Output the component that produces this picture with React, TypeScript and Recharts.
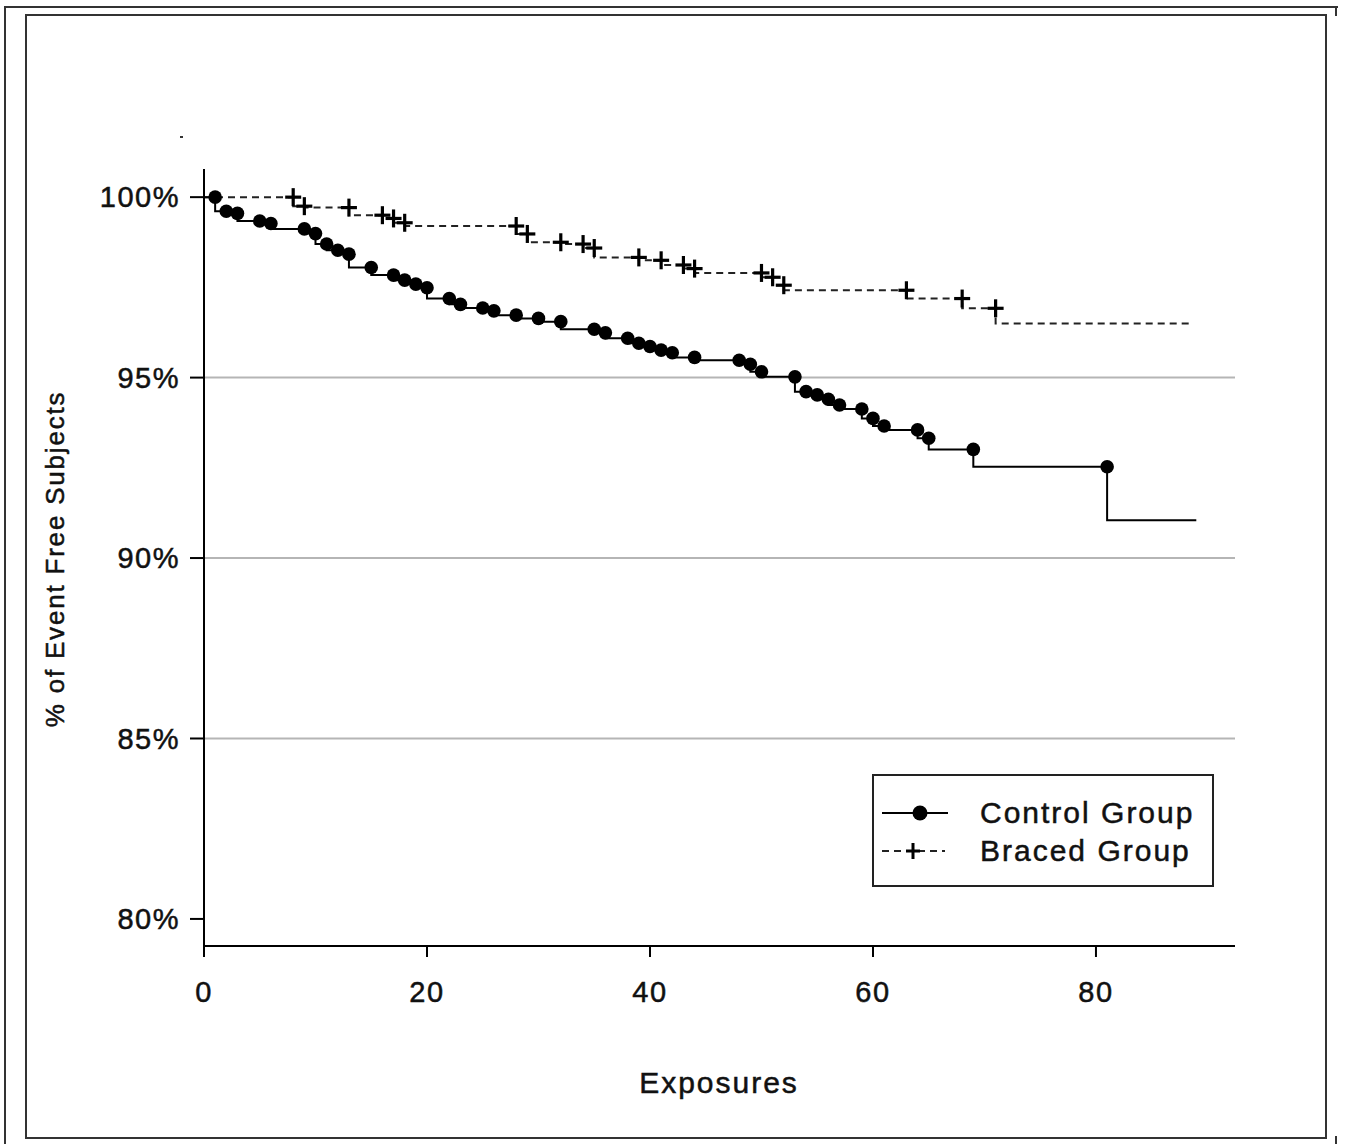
import { ComposedChart, Line, XAxis, YAxis, ReferenceLine, Legend } from "recharts";

// Kaplan-Meier style curves: marker times and the level held just before each drop
const controlTimes = [1, 2, 3, 5, 6, 9, 10, 11, 12, 13, 15, 17, 18, 19, 20, 22, 23, 25, 26, 28, 30, 32, 35, 36, 38, 39, 40, 41, 42, 44, 48, 49, 50, 53, 54, 55, 56, 57, 59, 60, 61, 64, 65, 69, 81];
const controlLevels = [100.0, 99.61, 99.55, 99.34, 99.27, 99.12, 98.99, 98.7, 98.53, 98.42, 98.05, 97.84, 97.7, 97.59, 97.49, 97.19, 97.03, 96.93, 96.85, 96.73, 96.64, 96.55, 96.34, 96.24, 96.09, 95.95, 95.86, 95.76, 95.69, 95.56, 95.48, 95.37, 95.16, 95.02, 94.61, 94.52, 94.4, 94.24, 94.13, 93.87, 93.66, 93.55, 93.32, 93.01, 92.53];
const controlFinal = { time: 89, level: 91.05 };

const bracedTimes = [8, 9, 13, 16, 17, 18, 28, 29, 32, 34, 35, 39, 41, 43, 44, 50, 51, 52, 63, 68, 71];
const bracedLevels = [100.0, 99.75, 99.71, 99.5, 99.41, 99.29, 99.2, 98.98, 98.75, 98.7, 98.59, 98.33, 98.25, 98.12, 98.02, 97.9, 97.78, 97.56, 97.42, 97.19, 96.92];
const bracedFinal = { time: 88.5, level: 96.5 };

const xTicks = [0, 20, 40, 60, 80];
const yTicks = [80, 85, 90, 95, 100];
const gridLevels = [85, 90, 95];

const FONT = "'Liberation Sans', Arial, Helvetica, sans-serif";
const tickStyle = { fill: "#111", stroke: "#111", strokeWidth: 0.5, fontSize: 29, fontFamily: FONT, letterSpacing: 1.5 };

function buildCurve(times: number[], levels: number[], final: { time: number; level: number }) {
  return [
    { x: 0, y: 100 },
    ...times.map((t, i) => ({ x: t, y: levels[i] })),
    { x: final.time, y: final.level },
  ];
}

const controlData = buildCurve(controlTimes, controlLevels, controlFinal);
const bracedData = buildCurve(bracedTimes, bracedLevels, bracedFinal);

function CircleDot(props: any) {
  const { cx, cy, index } = props;
  if (index === 0 || index === controlData.length - 1) return <g key={`c-${index}`} />;
  return <circle key={`c-${index}`} cx={cx} cy={cy} r={6.8} fill="#000" />;
}

function PlusDot(props: any) {
  const { cx, cy, index } = props;
  if (index === 0 || index === bracedData.length - 1) return <g key={`b-${index}`} />;
  return (
    <g key={`b-${index}`} stroke="#000" strokeWidth={3.2}>
      <line x1={cx - 8} y1={cy} x2={cx + 8} y2={cy} />
      <line x1={cx} y1={cy - 9} x2={cx} y2={cy + 9} />
    </g>
  );
}

function LegendBox() {
  const row = { display: "flex", alignItems: "center", height: 38 };
  return (
    <div
      style={{
        width: 342,
        height: 113,
        boxSizing: "border-box",
        border: "2px solid #222",
        background: "#fff",
        padding: "18px 0 0 8px",
        fontFamily: FONT,
        fontSize: 30,
        letterSpacing: 2,
        color: "#111",
        WebkitTextStroke: "0.5px #111",
      }}
    >
      <div style={row}>
        <svg width={98} height={30}>
          <line x1={0} y1={15} x2={66} y2={15} stroke="#000" strokeWidth={2} />
          <circle cx={38} cy={15} r={7.5} fill="#000" />
        </svg>
        <span>Control Group</span>
      </div>
      <div style={row}>
        <svg width={98} height={30}>
          <line x1={0} y1={15} x2={63} y2={15} stroke="#222" strokeWidth={2} strokeDasharray="7 5" />
          <line x1={24} y1={15} x2={38} y2={15} stroke="#000" strokeWidth={3} />
          <line x1={31} y1={7} x2={31} y2={23} stroke="#000" strokeWidth={3} />
        </svg>
        <span>Braced Group</span>
      </div>
    </div>
  );
}

export default function App() {
  return (
    <div style={{ position: "absolute", left: 0, top: 0, width: 1347, height: 1144, background: "#fff" }}>
      {/* scanned page frame */}
      <div style={{ position: "absolute", left: 4, top: 6, width: 1332, height: 1138, borderTop: "2px solid #333", borderLeft: "2px solid #333" }} />
      <div style={{ position: "absolute", left: 1335, top: 6, width: 2, height: 10, background: "#333" }} />
      <div style={{ position: "absolute", left: 1335, top: 1136, width: 2, height: 8, background: "#333" }} />
      <div style={{ position: "absolute", left: 25, top: 14, width: 1302, height: 1125, boxSizing: "border-box", border: "2px solid #333" }} />
      <div style={{ position: "absolute", left: 180, top: 136, width: 3, height: 2, background: "#333" }} />
      <div style={{ position: "absolute", left: 0, top: 0 }}>
        <ComposedChart width={1347} height={1144} margin={{ top: 169, right: 112, bottom: 138, left: 84 }}>
          <XAxis
            xAxisId="bottom"
            dataKey="x"
            type="number"
            domain={[0, 92.47]}
            ticks={xTicks}
            allowDataOverflow
            height={60}
            tickSize={11}
            tickMargin={24}
            axisLine={{ stroke: "#000", strokeWidth: 2 }}
            tickLine={{ stroke: "#000", strokeWidth: 2 }}
            tick={tickStyle}
            label={{
              value: "Exposures",
              content: () => (
                <text x={719} y={1093} textAnchor="middle" fill="#111" stroke="#111" strokeWidth={0.5} fontSize={30} fontFamily={FONT} letterSpacing={2}>
                  Exposures
                </text>
              ),
            }}
          />
          <XAxis xAxisId="top" orientation="top" dataKey="x" type="number" domain={[0, 92.47]} height={0} tick={false} tickLine={false} axisLine={{ stroke: "#000", strokeWidth: 2 }} />
          <YAxis
            yAxisId="left"
            type="number"
            domain={[79.25, 100.78]}
            ticks={yTicks}
            allowDataOverflow
            width={120}
            tickSize={14}
            tickMargin={10}
            tickFormatter={(v: number) => `${v}%`}
            axisLine={{ stroke: "#000", strokeWidth: 2 }}
            tickLine={{ stroke: "#000", strokeWidth: 2 }}
            tick={tickStyle}
            label={{
              value: "% of Event Free Subjects",
              content: () => (
                <text x={64} y={559} transform="rotate(-90 64 559)" textAnchor="middle" fill="#111" stroke="#111" strokeWidth={0.5} fontSize={26} fontFamily={FONT} letterSpacing={1.8}>
                  % of Event Free Subjects
                </text>
              ),
            }}
          />
          <YAxis yAxisId="right" orientation="right" type="number" domain={[79.25, 100.78]} width={0} tick={false} tickLine={false} axisLine={{ stroke: "#000", strokeWidth: 2 }} />
          {gridLevels.map((g) => (
            <ReferenceLine key={g} xAxisId="bottom" yAxisId="left" y={g} stroke="#b5b5b5" strokeWidth={2} />
          ))}
          <Line
            xAxisId="bottom"
            yAxisId="left"
            data={bracedData}
            dataKey="y"
            type="stepBefore"
            stroke="#222"
            strokeWidth={2}
            strokeDasharray="7 5"
            dot={PlusDot}
            activeDot={false}
            isAnimationActive={false}
            name="Braced Group"
          />
          <Line
            xAxisId="bottom"
            yAxisId="left"
            data={controlData}
            dataKey="y"
            type="stepBefore"
            stroke="#000"
            strokeWidth={2}
            dot={CircleDot}
            activeDot={false}
            isAnimationActive={false}
            name="Control Group"
          />
          <Legend
            layout="horizontal"
            verticalAlign="middle"
            align="center"
            content={() => <LegendBox />}
            wrapperStyle={{ position: "absolute", left: 872, top: 774, width: 342, height: 113 }}
          />
        </ComposedChart>
      </div>
    </div>
  );
}
